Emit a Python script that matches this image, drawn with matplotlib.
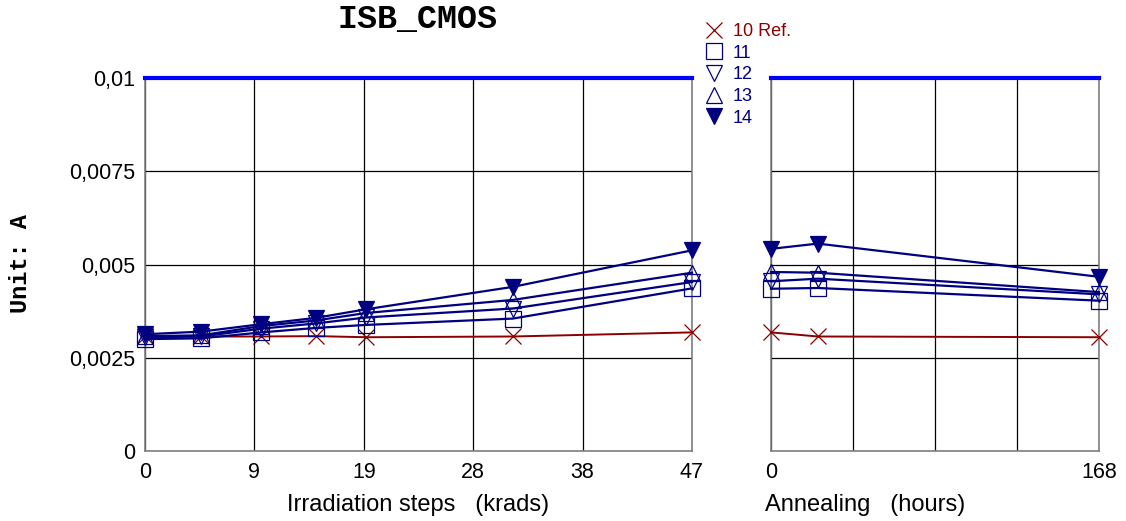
import matplotlib
matplotlib.use("Agg")
import matplotlib.pyplot as plt
from matplotlib.ticker import FuncFormatter

# irradiation steps (krads) and annealing time (hours)
irr_x = [0, 4.8, 10, 14.7, 19, 31.6, 47]
ann_x = [0, 24, 168]

# ISB_CMOS current (A) per device
irr_y = {
    "10 Ref.": [0.00307, 0.00307, 0.00307, 0.00308, 0.00305, 0.00307, 0.00318],
    "11": [0.00300, 0.00302, 0.00318, 0.00330, 0.00338, 0.00355, 0.00436],
    "12": [0.00305, 0.00307, 0.00328, 0.00342, 0.00358, 0.00382, 0.00453],
    "13": [0.00308, 0.00310, 0.00335, 0.00350, 0.00370, 0.00405, 0.00478],
    "14": [0.00313, 0.00320, 0.00340, 0.00357, 0.00380, 0.00440, 0.00538],
}
ann_y = {
    "10 Ref.": [0.00318, 0.00307, 0.00305],
    "11": [0.00435, 0.00437, 0.00403],
    "12": [0.00455, 0.00462, 0.00420],
    "13": [0.00480, 0.00478, 0.00426],
    "14": [0.00542, 0.00556, 0.00467],
}
limit = 0.01

red = "#8b0000"
navy = "#000080"
styles = {
    "10 Ref.": dict(marker="x", color=red, mfc="none", ms=11, mew=0.9),
    "11": dict(marker="s", color=navy, mfc="none", ms=11, mew=0.9),
    "12": dict(marker="v", color=navy, mfc="none", ms=11, mew=0.9),
    "13": dict(marker="^", color=navy, mfc="none", ms=11, mew=0.9),
    "14": dict(marker="v", color=navy, mfc=navy, ms=12, mew=0.9),
}

fig = plt.figure(figsize=(11.26, 5.21), dpi=100)
W, H = 1126, 521
ax1 = fig.add_axes([145 / W, 1 - 451 / H, 547 / W, 373 / H])
ax2 = fig.add_axes([771 / W, 1 - 451 / H, 328 / W, 373 / H])

tick_font = dict(family="Liberation Sans", size=15.5)
comma = FuncFormatter(lambda v, p: ("%g" % v).replace(".", ","))

for ax, xs, data, xmax in [(ax1, irr_x, irr_y, 47), (ax2, ann_x, ann_y, 168)]:
    ax.set_xlim(0, xmax)
    ax.set_ylim(0, 0.01)
    for name, ys in data.items():
        ax.plot(xs, ys, lw=1.6 if name != "10 Ref." else 1.4, clip_on=False,
                zorder=3, **styles[name])
    ax.plot([0, xmax], [limit, limit], color="#0000ff", lw=3, clip_on=False, zorder=4)
    ax.set_yticks([0, 0.0025, 0.005, 0.0075, 0.01])
    ax.grid(True, color="black", lw=0.9, zorder=0)
    ax.spines["top"].set_visible(False)
    for s in ["left", "right", "bottom"]:
        ax.spines[s].set_color("#808080")
        ax.spines[s].set_linewidth(1.2)
    ax.tick_params(length=0, pad=8, labelsize=15.5)

ax1.set_xticks([47 * i / 5 for i in range(6)])
ax1.set_xticklabels(["0", "9", "19", "28", "38", "47"], **tick_font)
ax1.yaxis.set_major_formatter(comma)
ax1.tick_params(axis="y", pad=7)
for lab in ax1.get_yticklabels():
    lab.set_fontfamily("Liberation Sans")

ax2.set_xticks([0, 42, 84, 126, 168])
ax2.set_xticklabels(["0", "", "", "", "168"], **tick_font)
ax2.tick_params(axis="y", labelleft=False)

fig.text(418 / W, 1 - 505 / H, "Irradiation steps   (krads)", ha="center", va="center",
         fontsize=17, family="Liberation Sans")
fig.text(865 / W, 1 - 505 / H, "Annealing   (hours)", ha="center", va="center",
         fontsize=17, family="Liberation Sans")
fig.text(417 / W, 1 - 20 / H, "ISB_CMOS", ha="center", va="center",
         fontsize=24, fontweight="bold", family="Liberation Mono")
fig.text(21 / W, 1 - 264 / H, "Unit: A", ha="center", va="center", rotation=90,
         fontsize=17, fontweight="bold", family="Liberation Mono")

handles = [plt.Line2D([], [], ls="none", **styles[n]) for n in irr_y]
leg = fig.legend(handles, list(irr_y), loc="upper left", bbox_to_anchor=(696 / W, 1 - 14 / H),
                 frameon=False, handlelength=1.0, handletextpad=0.55, labelspacing=0.26,
                 prop=dict(family="Liberation Sans", size=13), borderpad=0)
for txt, n in zip(leg.get_texts(), irr_y):
    txt.set_color(red if n == "10 Ref." else navy)

fig.savefig("out.png", dpi=100)
